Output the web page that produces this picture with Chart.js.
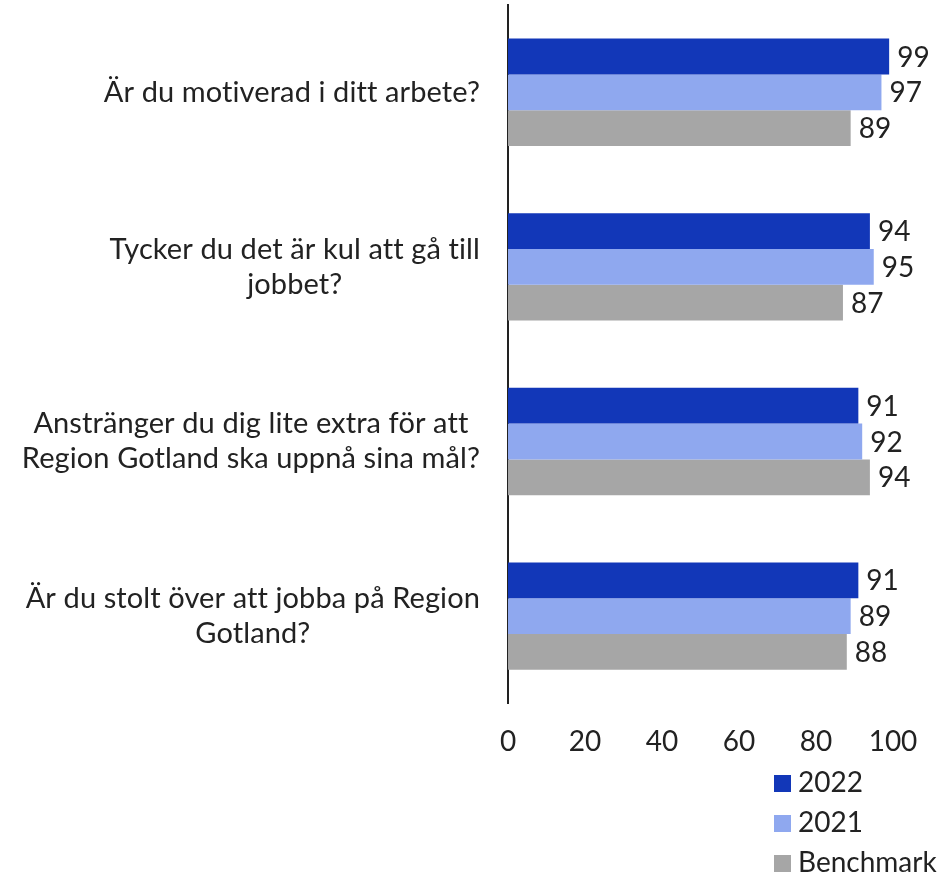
<!DOCTYPE html>
<html>
<head>
<meta charset="utf-8">
<script src="https://cdn.jsdelivr.net/npm/chart.js@4"></script>
<style>
  html, body { margin:0; padding:0; background:#fff; }
  .wrap { width:945px; height:879px; position:relative; }
</style>
</head>
<body>
<div class="wrap"><canvas id="c"></canvas></div>
<script>
const categories = [
  ['Är du motiverad i ditt arbete?'],
  ['Tycker du det är kul att gå till', 'jobbet?'],
  ['Anstränger du dig lite extra för att', 'Region Gotland ska uppnå sina mål?'],
  ['Är du stolt över att jobba på Region', 'Gotland?']
];
const seriesNames = ['2022', '2021', 'Benchmark'];
const values2022 = [99, 94, 91, 91];
const values2021 = [97, 95, 92, 89];
const valuesBench = [89, 87, 94, 88];
const xTicks = [0, 20, 40, 60, 80, 100];

const colors = ['#1237B8', '#8FA8EF', '#A6A6A6'];
const FONT = 'Lato, "Liberation Sans", sans-serif';
const FS = 28;
const TXT = '#222';

// category labels: lines centred on each other, block right-aligned against the axis
const catLabels = {
  id: 'catLabels',
  afterDraw(chart) {
    const { ctx, scales: { y }, chartArea } = chart;
    ctx.save();
    ctx.font = `29px ${FONT}`;
    if ('letterSpacing' in ctx) ctx.letterSpacing = '0.1px'; // keeps Lato from joining "ti"/"tt"
    ctx.fillStyle = TXT;
    ctx.textAlign = 'center';
    ctx.textBaseline = 'middle';
    const lh = 35;
    categories.forEach((lines, i) => {
      const cy = y.getPixelForValue(i);
      const w = Math.max(...lines.map(l => ctx.measureText(l).width));
      const cx = chartArea.left - 28 - w / 2;
      lines.forEach((l, j) => {
        ctx.fillText(l, cx, cy + (j - (lines.length - 1) / 2) * lh);
      });
    });
    ctx.restore();
  }
};

const valueLabels = {
  id: 'valueLabels',
  afterDatasetsDraw(chart) {
    const { ctx } = chart;
    ctx.save();
    ctx.font = `${FS}px ${FONT}`;
    ctx.fillStyle = TXT;
    ctx.textAlign = 'left';
    ctx.textBaseline = 'middle';
    chart.data.datasets.forEach((ds, di) => {
      chart.getDatasetMeta(di).data.forEach((bar, i) => {
        ctx.fillText(ds.data[i], bar.x + 8, bar.y + 1);
      });
    });
    ctx.restore();
  }
};

const sideLegend = {
  id: 'sideLegend',
  afterDraw(chart) {
    const { ctx } = chart;
    ctx.save();
    ctx.font = `${FS}px ${FONT}`;
    ctx.textAlign = 'left';
    ctx.textBaseline = 'middle';
    const x = 774, y0 = 783, step = 40;
    chart.data.datasets.forEach((ds, i) => {
      const y = y0 + i * step;
      ctx.fillStyle = ds.backgroundColor;
      ctx.fillRect(x, y - 8, 17, 17);
      ctx.fillStyle = TXT;
      ctx.fillText(ds.label, x + 24, y);
    });
    ctx.restore();
  }
};

new Chart(document.getElementById('c'), {
  type: 'bar',
  data: {
    labels: categories,
    datasets: [
      { label: seriesNames[0], data: values2022, backgroundColor: colors[0] },
      { label: seriesNames[1], data: values2021, backgroundColor: colors[1] },
      { label: seriesNames[2], data: valuesBench, backgroundColor: colors[2] }
    ]
  },
  options: {
    indexAxis: 'y',
    responsive: true,
    maintainAspectRatio: false,
    animation: false,
    layout: { padding: { left: 500, right: 52, top: 5, bottom: 106 } },
    datasets: { bar: { barPercentage: 1, categoryPercentage: 0.615 } },
    plugins: { legend: { display: false }, tooltip: { enabled: false } },
    scales: {
      x: {
        min: 0, max: 100,
        afterBuildTicks: s => { s.ticks = xTicks.map(v => ({ value: v })); },
        grid: { display: false },
        border: { display: false },
        ticks: { color: TXT, font: { family: FONT, size: FS }, padding: 14, maxRotation: 0 }
      },
      y: {
        grid: { display: false },
        border: { display: true, color: '#222', width: 2 },
        ticks: { display: false }
      }
    }
  },
  plugins: [catLabels, valueLabels, sideLegend]
});
</script>
</body>
</html>
